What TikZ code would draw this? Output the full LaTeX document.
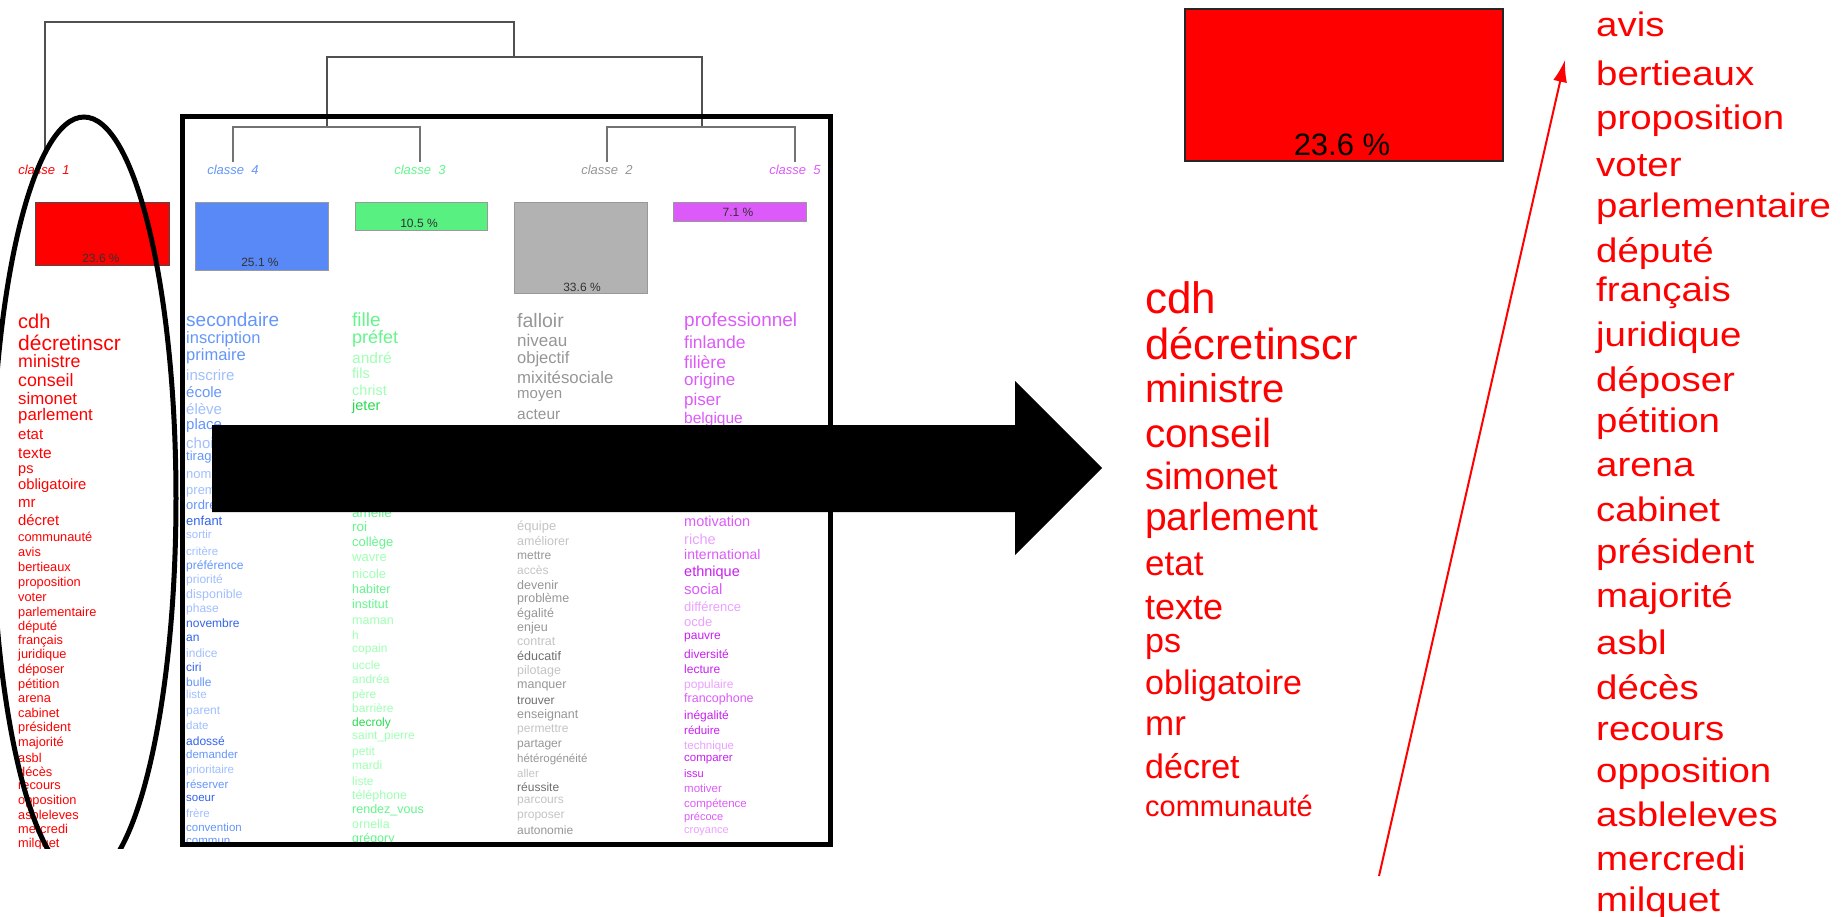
\documentclass[tikz,border=0pt]{standalone}
\usepackage{fontspec}
\setmainfont{Liberation Sans}
\usepackage{graphicx}
\usetikzlibrary{arrows.meta}
\definecolor{c1r}{RGB}{255,0,0}
\definecolor{c4a}{RGB}{50,100,235}
\definecolor{c4b}{RGB}{100,150,250}
\definecolor{c4c}{RGB}{160,190,255}
\definecolor{c3a}{RGB}{40,220,80}
\definecolor{c3b}{RGB}{100,245,140}
\definecolor{c3c}{RGB}{160,255,180}
\definecolor{c2a}{RGB}{110,110,110}
\definecolor{c2b}{RGB}{150,150,150}
\definecolor{c2c}{RGB}{195,195,195}
\definecolor{c5a}{RGB}{200,30,240}
\definecolor{c5b}{RGB}{220,90,250}
\definecolor{c5c}{RGB}{235,160,255}
\definecolor{dendro}{RGB}{80,80,80}
\tikzset{
  kword/.style={anchor=base west, inner sep=0pt},
  klabel/.style={inner sep=0pt, font=\fontsize{13}{13}\selectfont\itshape},
  kbar/.style={draw=black!70, line width=1pt, inner sep=0pt},
  kpct/.style={inner sep=0pt, font=\fontsize{12}{12}\selectfont, text=black!80},
}
\begin{document}
\begin{tikzpicture}[x=1pt,y=-1pt]
\useasboundingbox (0,0) rectangle (1845,916);

\coordinate (top1) at (45,150);
\coordinate (top2) at (514,22);
\coordinate (mid) at (514,57);
\coordinate (in1) at (327,127);
\coordinate (in2) at (702,127);
\draw[dendro, line width=1.5pt] (top1) |- (top2) -- (mid);
\draw[dendro, line width=1.5pt] (in1) |- (mid) -| (in2);
\draw[black!55, line width=1.2pt] (233,162) |- (in1) -| (420,162);
\draw[black!55, line width=1.2pt] (607,162) |- (in2) -| (795,162);

\node[klabel, text=c1r] (lab1) at (44,170) {classe\ \ 1};
\node[klabel, text=c4b] (lab4) at (233,170) {classe\ \ 4};
\node[klabel, text=c3b] (lab3) at (420,170) {classe\ \ 3};
\node[klabel, text=c2b] (lab2) at (607,170) {classe\ \ 2};
\node[klabel, text=c5b] (lab5) at (795,170) {classe\ \ 5};

\node[kbar, fill=c1r, minimum width=134pt, minimum height=63pt] (bar1) at (102,233.5) {};
\node[kbar, draw=black!40, fill=c4b!75!c4a, minimum width=133pt, minimum height=68pt] (bar4) at (261.5,236) {};
\node[kbar, draw=black!40, fill=c3b!80!c3a, minimum width=132pt, minimum height=28pt] (bar3) at (421,216) {};
\node[kbar, draw=black!40, fill=black!30, minimum width=133pt, minimum height=91pt] (bar2) at (580.5,247.5) {};
\node[kbar, draw=black!40, fill=c5b, minimum width=133pt, minimum height=19pt] (bar5) at (739.5,211.5) {};
\node[kpct] (pct1) at (101,258) {23.6 \%};
\node[kpct] (pct4) at (260,262) {25.1 \%};
\node[kpct] (pct3) at (419,223) {10.5 \%};
\node[kpct] (pct2) at (582,287) {33.6 \%};
\node[kpct] (pct5) at (738,212) {7.1 \%};

\begin{scope}
\clip (0,300) rectangle (180,848);
\foreach \word/\yy/\fs [count=\i] in {cdh/323/20, décretinscr/345/21, ministre/363/17.8, conseil/382/17.8, simonet/400/16.8, parlement/416/16.8, etat/436/15, texte/454/15.5, ps/470/14.5, obligatoire/486/14.8, mr/504/15, décret/522/14.8, communauté/538/12.8, avis/553/12.8, bertieaux/568/12.8, proposition/583/12.8, voter/598/12.8, parlementaire/613/12.8, député/627/12.8, français/641/12.8, juridique/655/12.8, déposer/670/12.8, pétition/685/12.8, arena/699/12.8, cabinet/714/12.8, président/728/12.8, majorité/743/12.8, asbl/759/12.8, décès/773/12.8, recours/786/12.8, opposition/801/12.8, asbleleves/816/12.8, mercredi/830/12.8, milquet/844/12.8}
  \node[kword, text=c1r, font=\fontsize{\fs}{\fs}\selectfont] (c1-\i) at (18,{\yy+0.26*\fs}) {\word};
\end{scope}

\begin{scope}
\clip (182,116) rectangle (830,844);
\foreach \word/\yy/\fs/\shade [count=\i] in {secondaire/322/19/c4b, inscription/339/16.5/c4b, primaire/356/16.5/c4b, inscrire/377/15/c4c, école/394/15/c4b, élève/411/15/c4c, place/426/15/c4b, choix/445/15/c4c, tirage/457/13/c4b, nombre/475/13/c4c, premier/491/13/c4c, ordre/506/13/c4b, enfant/522/13/c4a, sortir/536/11.5/c4c, critère/553/11.5/c4c, préférence/566/12/c4b, priorité/580/12/c4c, disponible/595/12.5/c4c, phase/609/12/c4c, novembre/624/12/c4a, an/638/12/c4a, indice/654/12/c4c, ciri/668/12/c4a, bulle/683/12/c4b, liste/696/11.5/c4c, parent/711/12/c4c, date/726/11.5/c4c, adossé/742/12/c4a, demander/755/11.5/c4b, prioritaire/770/11.5/c4c, réserver/785/11.5/c4b, soeur/798/11.5/c4a, frère/814/11.5/c4c, convention/828/11.5/c4b, commun/841/11.5/c4b}
  \node[kword, text=\shade, font=\fontsize{\fs}{\fs}\selectfont] (c4-\i) at (186,{\yy+0.26*\fs}) {\word};
\foreach \word/\yy/\fs/\shade [count=\i] in {fille/322/19/c3b, préfet/339/18/c3b, andré/359/15.5/c3c, fils/375/14.5/c3c, christ/392/14.5/c3c, jeter/407/14.5/c3a, amélie/514/13.5/c3b, roi/528/13.5/c3b, collège/543/13/c3b, wavre/558/13/c3c, nicole/575/13/c3c, habiter/590/12.5/c3b, institut/605/12.5/c3b, maman/621/12.5/c3c, h/636/12/c3c, copain/649/12/c3c, uccle/666/12/c3c, andréa/680/12/c3c, père/695/12/c3c, barrière/709/12/c3c, decroly/723/12/c3a, saint\_pierre/736/12/c3c, petit/752/12/c3c, mardi/766/12/c3c, liste/782/12/c3c, téléphone/796/12.5/c3c, rendez\_vous/810/12.5/c3b, ornella/825/12.5/c3c, grégory/839/12.5/c3b}
  \node[kword, text=\shade, font=\fontsize{\fs}{\fs}\selectfont] (c3-\i) at (352,{\yy+0.26*\fs}) {\word};
\foreach \word/\yy/\fs/\shade [count=\i] in {falloir/322/19.5/c2b, niveau/342/17/c2b, objectif/359/16.5/c2b, mixitésociale/379/16.8/c2b, moyen/395/15/c2b, acteur/415/15.5/c2b, équipe/527/13/c2c, améliorer/542/12.5/c2c, mettre/556/12/c2b, accès/571/12/c2c, devenir/586/12.5/c2b, problème/599/12.5/c2b, égalité/614/12.5/c2b, enjeu/628/12.5/c2b, contrat/642/12.5/c2c, éducatif/657/12.5/c2a, pilotage/671/12.5/c2c, manquer/685/12.5/c2b, trouver/701/12/c2a, enseignant/715/12.5/c2b, permettre/729/12/c2c, partager/744/12/c2b, hétérogénéité/759/11.5/c2b, aller/774/11.5/c2c, réussite/788/12/c2a, parcours/800/12/c2c, proposer/815/12/c2c, autonomie/831/12/c2b}
  \node[kword, text=\shade, font=\fontsize{\fs}{\fs}\selectfont] (c2-\i) at (517,{\yy+0.26*\fs}) {\word};
\foreach \word/\yy/\fs/\shade [count=\i] in {professionnel/322/19/c5b, finlande/344/17.5/c5b, filière/364/17.5/c5b, origine/381/17/c5b, piser/401/17/c5b, belgique/419/15.5/c5b, motivation/523/14.5/c5b, riche/541/14.5/c5c, international/556/14/c5b, ethnique/573/14.5/c5a, social/591/15/c5b, différence/608/13/c5c, ocde/623/13/c5c, pauvre/636/12/c5a, diversité/655/12/c5a, lecture/670/12/c5a, populaire/685/12/c5c, francophone/699/12.5/c5b, inégalité/716/12/c5a, réduire/732/11.5/c5a, technique/746/11.5/c5c, comparer/758/11.5/c5a, issu/775/11/c5a, motiver/789/11.5/c5b, compétence/804/11.5/c5b, précoce/818/11/c5b, croyance/831/11/c5c}
  \node[kword, text=\shade, font=\fontsize{\fs}{\fs}\selectfont] (c5-\i) at (684,{\yy+0.26*\fs}) {\word};
\end{scope}

\draw[line width=5pt] (182,116) rectangle (830,844);
\begin{scope}
\clip (-10,0) rectangle (200,848);
\draw[line width=5pt] (84,498.5) ellipse [x radius=92, y radius=381.5];
\end{scope}

\fill (212,425) -- (1015,425) -- (1015,381) -- (1102,468) -- (1015,555) -- (1015,512) -- (212,512) -- cycle;

\node[kbar, draw=black!85, line width=2pt, fill=c1r, minimum width=318pt, minimum height=152pt] (bigbar) at (1344,85) {};
\node[inner sep=0pt, font=\fontsize{31}{31}\selectfont] (bigpct) at (1342,145) {23.6 \%};

\foreach \word/\yy/\fs [count=\i] in {cdh/302/44, décretinscr/348/43.5, ministre/392/40, conseil/437/40.5, simonet/480/38, parlement/520/39, etat/566/35, texte/610/36, ps/644/34, obligatoire/686/34, mr/726/35, décret/770/34, communauté/809/29}
  \node[kword, text=c1r, font=\fontsize{\fs}{\fs}\selectfont] (m1-\i) at (1145,{\yy+0.26*\fs}) {\word};
\foreach \word/\yy [count=\i] in {avis/28, bertieaux/77, proposition/121, voter/168, parlementaire/209, député/254, français/293, juridique/338, déposer/383, pétition/424, arena/468, cabinet/513, président/555, majorité/599, asbl/646, décès/691, recours/732, opposition/774, asbleleves/818, mercredi/862, milquet/903}
  \node[kword, text=c1r, font=\fontsize{34}{34}\selectfont] (r1-\i) at (1596,{\yy+8.8}) {\scalebox{1.13}[1]{\word}};

\coordinate (tail) at (1379,876);
\coordinate (tip) at (1565,60);
\draw[c1r, line width=2pt, -{Latex[length=22pt, width=14pt]}] (tail) -- (tip);
\end{tikzpicture}
\end{document}
